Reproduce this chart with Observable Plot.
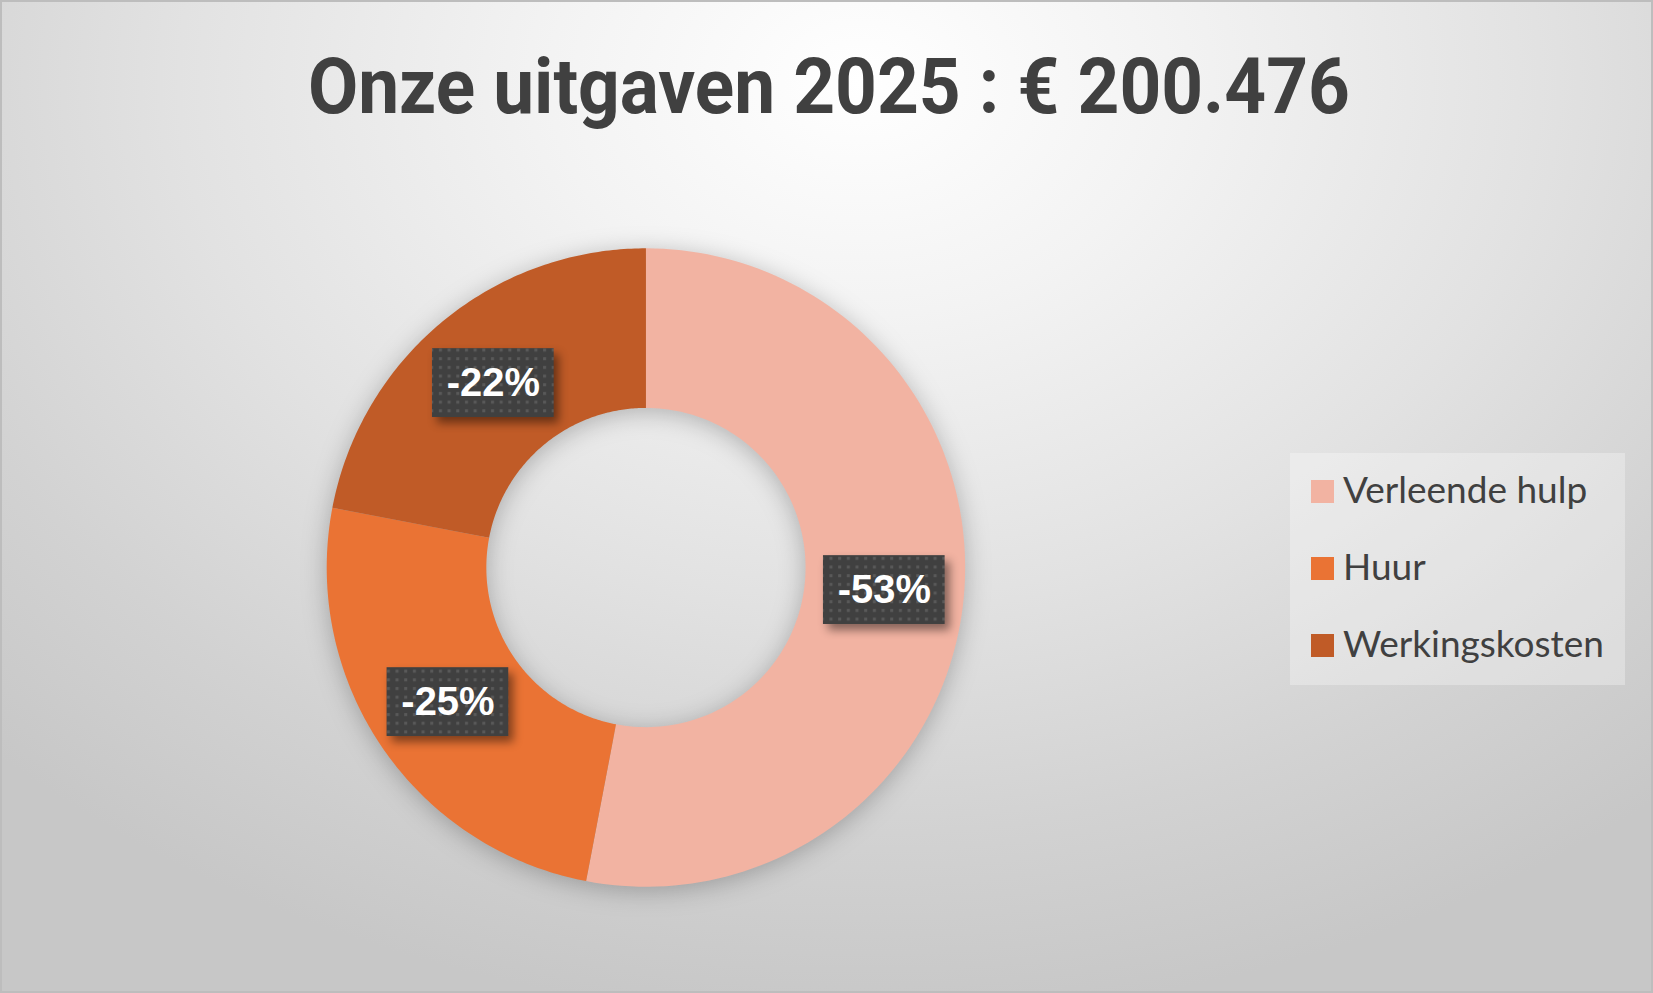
<!DOCTYPE html>
<html>
<head>
<meta charset="utf-8">
<script src="https://cdn.jsdelivr.net/npm/d3@7"></script>
<script src="https://cdn.jsdelivr.net/npm/@observablehq/plot@0.6"></script>
<style>
  body { margin: 0; }
  #card {
    position: relative;
    width: 1653px; height: 993px;
    box-sizing: border-box;
    border: 2px solid #bdbdbd;
    background: radial-gradient(ellipse 75% 95% at 52% 8%, #ffffff 0%, #f3f3f3 25%, #e2e2e2 55%, #d2d2d2 80%, #c7c7c7 100%);
    overflow: hidden;
  }
  #title {
    position: absolute; left: 0; top: 46px; width: 1653px;
    text-align: center;
    font: bold 78px Roboto, sans-serif; line-height: 1;
    color: #404040; white-space: nowrap;
  }
  #title span { display: inline-block; transform-origin: center; }
  #chart { position: absolute; left: 0; top: 170px; }
  #chart g[aria-label="line"] { filter: drop-shadow(0px 4px 12px rgba(0,0,0,0.25)); }
  #chart g[aria-label="rect"] { filter: drop-shadow(5px 6px 5px rgba(0,0,0,0.45)); }
  #legend {
    position: absolute; left: 1288px; top: 451px; width: 335px; height: 232px;
    background: rgba(255,255,255,0.3);
    box-sizing: border-box; padding-left: 21px;
  }
  #legend > div { font: 37px Lato, sans-serif !important; color: #404040; margin: 0 !important; }
  #legend > div > div { height: 77px; padding: 0 !important; display: flex !important; align-items: center; }
  #legend svg { margin-right: 9px !important; flex-shrink: 0; }
  #legend > div > div > div {
    line-height: 1.35; transform: translateY(-3px);
    overflow: visible !important; text-overflow: clip !important; white-space: nowrap;
  }
</style>
</head>
<body>
<svg width="0" height="0" style="position:absolute">
  <defs>
    <pattern id="dots" width="8.7" height="8.7" patternUnits="userSpaceOnUse">
      <rect width="8.7" height="8.7" fill="#404040"></rect>
      <rect x="3" y="3" width="3" height="3" fill="#595959"></rect>
    </pattern>
  </defs>
</svg>
<div id="card">
  <div id="title"><span>Onze uitgaven 2025 : € 200.476</span></div>
  <div id="chart"></div>
  <div id="legend"></div>
</div>
<script>
// data
const categories = ["Verleende hulp", "Huur", "Werkingskosten"];
const shares = [53, 25, 22];
const labels = ["-53%", "-25%", "-22%"];
const colors = ["#F2B3A2", "#EA7334", "#C05B27"];

const slices = categories.map((name, i) => ({name, value: shares[i], label: labels[i]}));
const arcs = d3.pie().value(d => d.value).sort(null)(slices);

// ring in unit coordinates (outer radius 1)
const inner = 0.5, outer = 1;
const ring = arcs.flatMap(a => {
  const n = 120, pts = [];
  for (let k = 0; k <= n; k++) {
    const t = a.startAngle + (a.endAngle - a.startAngle) * k / n;
    pts.push({name: a.data.name, x: outer * Math.sin(t), y: outer * Math.cos(t)});
  }
  for (let k = n; k >= 0; k--) {
    const t = a.startAngle + (a.endAngle - a.startAngle) * k / n;
    pts.push({name: a.data.name, x: inner * Math.sin(t), y: inner * Math.cos(t)});
  }
  return pts;
});

const mid = (inner + outer) / 2;
const centroids = arcs.map(a => {
  const t = (a.startAngle + a.endAngle) / 2;
  return {...a.data, x: mid * Math.sin(t), y: mid * Math.cos(t)};
});

const bw = 61 / 320, bh = 34.5 / 320;

let chart = Plot.plot({
  width: 1653,
  height: 823,
  margin: 0,
  style: {background: "transparent", overflow: "visible"},
  x: {domain: [-1, 1], range: [325, 965], axis: null},
  y: {domain: [-1, 1], range: [716, 76], axis: null},
  color: {domain: categories, range: colors},
  marks: [
    Plot.line(ring, {x: "x", y: "y", z: "name", fill: "name", stroke: "none", curve: "linear"}),
    Plot.rect(centroids, {
      x1: d => d.x - bw, x2: d => d.x + bw,
      y1: d => d.y - bh, y2: d => d.y + bh,
      fill: "url(#dots)"
    }),
    Plot.text(centroids, {
      x: "x", y: "y", text: "label",
      fill: "white", fontSize: 40, fontWeight: "bold",
      fontFamily: "Liberation Sans, Arial, sans-serif"
    })
  ]
});
d3.select('#chart').append(() => chart);

// legend
const legend = Plot.legend({
  color: {domain: categories, range: colors},
  legend: "swatches",
  columns: 1,
  swatchSize: 23
});
d3.select('#legend').append(() => legend);

// title squeezed to the width of the original
const span = document.querySelector('#title span');
const w = span.getBoundingClientRect().width;
span.style.transform = `scaleX(${1042 / w})`;
</script>
</body>
</html>
